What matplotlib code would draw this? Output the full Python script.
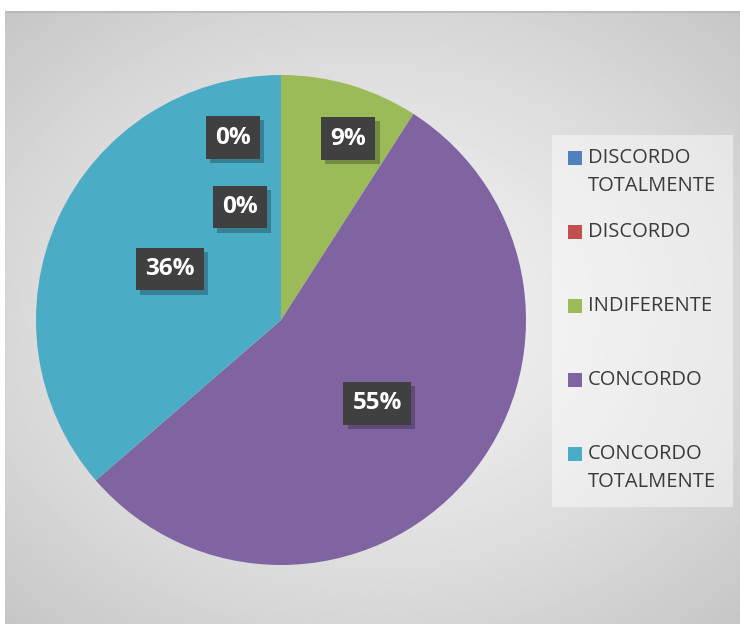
import matplotlib.pyplot as plt
import matplotlib.patheffects as pe
import numpy as np
from matplotlib.patches import Rectangle

categorias = ['DISCORDO\nTOTALMENTE', 'DISCORDO', 'INDIFERENTE', 'CONCORDO', 'CONCORDO\nTOTALMENTE']
respostas = [0, 0, 1, 6, 4]
cores = ['#4F81BD', '#C0504D', '#9BBB59', '#8064A2', '#4BACC6']

W, H = 740, 624
fig = plt.figure(figsize=(W / 100, H / 100), dpi=100)
fig.patch.set_facecolor('white')

# fundo com degrade radial (area do grafico)
bg = fig.add_axes([5 / W, 0, 735 / W, 613 / H])
bg.set_axis_off()
yy, xx = np.mgrid[-1:1:300j, -1:1:360j]
rr = np.sqrt((xx * 0.95) ** 2 + (yy * 1.0) ** 2) / np.sqrt(2)
grad = 0.95 - 0.18 * rr ** 1.4
bg.imshow(grad, cmap='gray', vmin=0, vmax=1, aspect='auto', extent=[0, 1, 0, 1])
bg.plot([0, 1], [0.999, 0.999], color='#b8b8b8', lw=1.2, transform=bg.transAxes)
bg.set_xlim(0, 1)
bg.set_ylim(0, 1)

# pizza
cx, cy, r = 281, 320, 245
ax = fig.add_axes([(cx - r) / W, (H - cy - r) / H, 2 * r / W, 2 * r / H])
ax.set_axis_off()
wedges, _ = ax.pie(respostas, colors=cores, startangle=90, counterclock=False,
                   radius=1, wedgeprops=dict(linewidth=0))
ax.set_xlim(-1, 1)
ax.set_ylim(-1, 1)

total = sum(respostas)
dist = [0.77, 0.49, 0.79, 0.52, 0.50]
desvio = [14.7, 20, -4, 0, 0]
for w, v, d, s in zip(wedges, respostas, dist, desvio):
    ang = np.deg2rad((w.theta1 + w.theta2) / 2 + s)
    x, y = d * np.cos(ang), d * np.sin(ang)
    txt = '{}%'.format(int(round(100 * v / total)))
    t = ax.text(x, y, txt, ha='center', va='center', fontsize=17.5, fontweight='bold',
                family='Open Sans', color='white',
                bbox=dict(boxstyle='square,pad=0.38', fc='#404040', ec='none'))
    t.get_bbox_patch().set_path_effects([
        pe.SimplePatchShadow(offset=(3, -3), shadow_rgbFace='black', alpha=0.25),
        pe.Normal()])

# legenda
fig.patches.append(Rectangle((552 / W, (H - 507) / H), 181 / W, 372 / H,
                             transform=fig.transFigure, fc='white', alpha=0.45,
                             ec='none'))
for i, (lab, c) in enumerate(zip(categorias, cores)):
    ym = 158 + 74 * i
    fig.patches.append(Rectangle((568 / W, (H - ym - 7) / H), 14 / W, 14 / H,
                                 transform=fig.transFigure, fc=c, ec='none'))
    for j, linha in enumerate(lab.split('\n')):
        fig.text(588 / W, (H - ym - 28 * j) / H, linha, ha='left', va='center',
                 fontsize=14.5, family='Open Sans', color='#3a3a3a')

plt.savefig('out.png', dpi=100)
